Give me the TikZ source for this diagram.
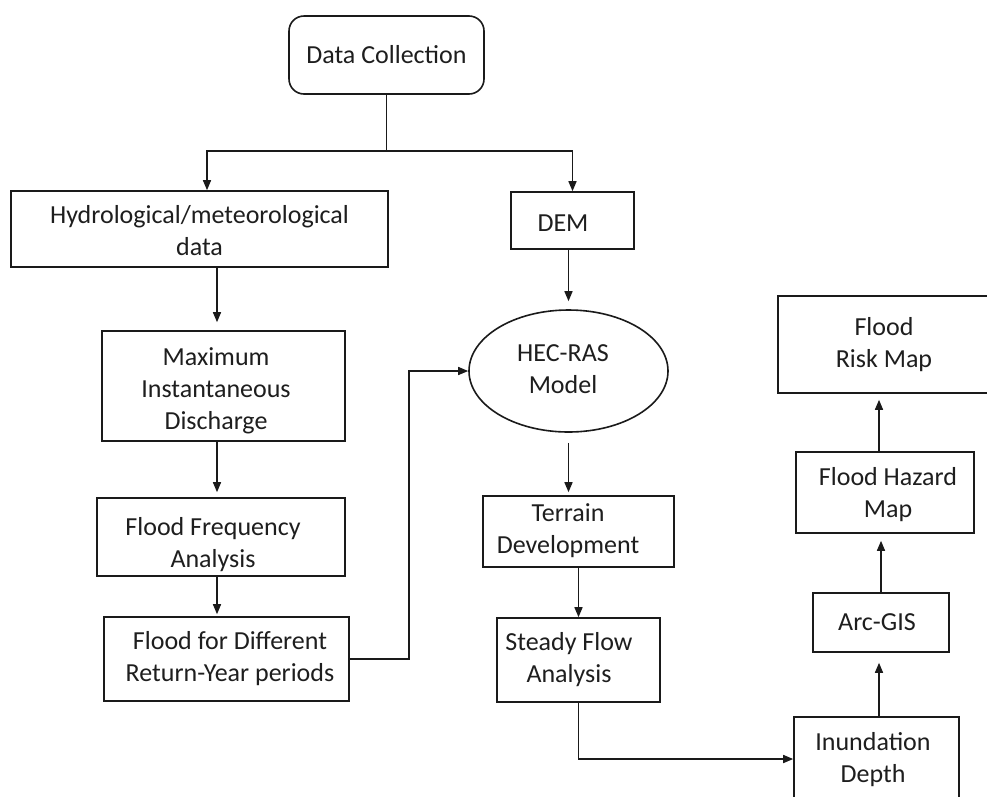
\documentclass[tikz,border=0pt]{standalone}
\usepackage{fontspec}
\setmainfont{Carlito}
\usetikzlibrary{arrows.meta,shapes.geometric}
\definecolor{txt}{HTML}{1E1E1E}
\definecolor{ln}{HTML}{1A1A1A}
\newcommand\sft[3]{\raisebox{#2}[\height][\depth]{\begin{tabular}{@{\hspace{#1}}c@{}}#3\end{tabular}}}
\begin{document}
\begin{tikzpicture}[x=1pt,y=-1pt,
  box/.style={draw=ln,line width=1.6pt,rectangle,inner sep=0pt,align=center,text=txt,
    font=\fontsize{26}{32}\selectfont},
  arr/.style={line width=1.5pt,draw=ln,-{Triangle[length=10pt,width=8pt]}},
  ln/.style={line width=1.5pt,draw=ln}
]
\useasboundingbox (0,0) rectangle (987,796);
\clip (0,0) rectangle (987,796);
\fill[white] (0,0) rectangle (987,796);

\node[box,rounded corners=15pt,minimum width=195pt,minimum height=78pt] (dc) at (386.5,55) {Data Collection};
\node[box,minimum width=377pt,minimum height=76pt] (hyd) at (199.5,229) {\sft{0pt}{-4pt}{Hydrological/meteorological\\data}};
\node[box,minimum width=123pt,minimum height=57pt] (dem) at (572.5,220.5) {\sft{-19pt}{-5pt}{DEM}};
\node[box,minimum width=243pt,minimum height=110pt] (max) at (223.5,386) {\sft{-15pt}{-5pt}{Maximum\\Instantaneous\\Discharge}};
\node[box,minimum width=248pt,minimum height=78pt] (ffa) at (221,537) {\sft{-16pt}{-8pt}{Flood Frequency\\Analysis}};
\node[box,minimum width=245pt,minimum height=84pt] (ffd) at (226.5,659) {\sft{7pt}{0pt}{Flood for Different\\Return-Year periods}};
\node[box,ellipse,minimum width=199pt,minimum height=122pt] (hec) at (568.5,371) {\sft{-11pt}{0pt}{HEC-RAS\\Model}};
\node[box,minimum width=191pt,minimum height=71pt] (ter) at (578.5,531.5) {\sft{-21pt}{0pt}{Terrain\\Development}};
\node[box,minimum width=163pt,minimum height=84pt] (sfa) at (578.5,660) {\sft{-19pt}{0pt}{Steady Flow\\Analysis}};
\node[box,minimum width=165pt,minimum height=84pt] (ind) at (876.5,759) {\sft{-7pt}{-1pt}{Inundation\\Depth}};
\node[box,minimum width=136pt,minimum height=59pt] (arc) at (881,622.5) {\sft{-8pt}{-2pt}{Arc-GIS}};
\node[box,minimum width=178pt,minimum height=81pt] (fhm) at (885,492.5) {\sft{6pt}{-3pt}{Flood Hazard\\Map}};
\node[box,minimum width=212pt,minimum height=97pt] (frm) at (884,344.5) {Flood\\Risk Map};

\coordinate (j) at (386.5,151);
\coordinate (b1) at (409,371);
\draw[arr] (dc.south) -- (j) -| ([xshift=7.5pt]hyd.north);
\draw[arr] (j) -| (dem.north);
\draw[arr,shorten >=8pt] ([xshift=17.5pt]hyd.south) -- ([xshift=-6.5pt]max.north);
\draw[arr,shorten >=5pt] ([xshift=-6.5pt]max.south) -- ([xshift=-4pt]ffa.north);
\draw[arr,shorten >=2pt] ([xshift=-4pt]ffa.south) -- ([xshift=-9.5pt]ffd.north);
\draw[arr] (ffd.east) -| (b1) -- (hec.west);
\draw[arr,shorten >=8pt] ([xshift=-4pt]dem.south) -- (hec.north);
\draw[arr,shorten <=10pt,shorten >=3pt] (hec.south) -- ([xshift=-10pt]ter.north);
\draw[arr] (ter.south) -- (sfa.north);
\draw[arr] (sfa.south) |- (ind.west);
\draw[arr,shorten >=10pt] ([xshift=2.5pt]ind.north) -- ([xshift=-2pt]arc.south);
\draw[arr,shorten >=7pt] (arc.north) -- ([xshift=-4pt]fhm.south);
\draw[arr,shorten >=6pt] ([xshift=-6pt]fhm.north) -- ([xshift=-5pt]frm.south);
\end{tikzpicture}
\end{document}
